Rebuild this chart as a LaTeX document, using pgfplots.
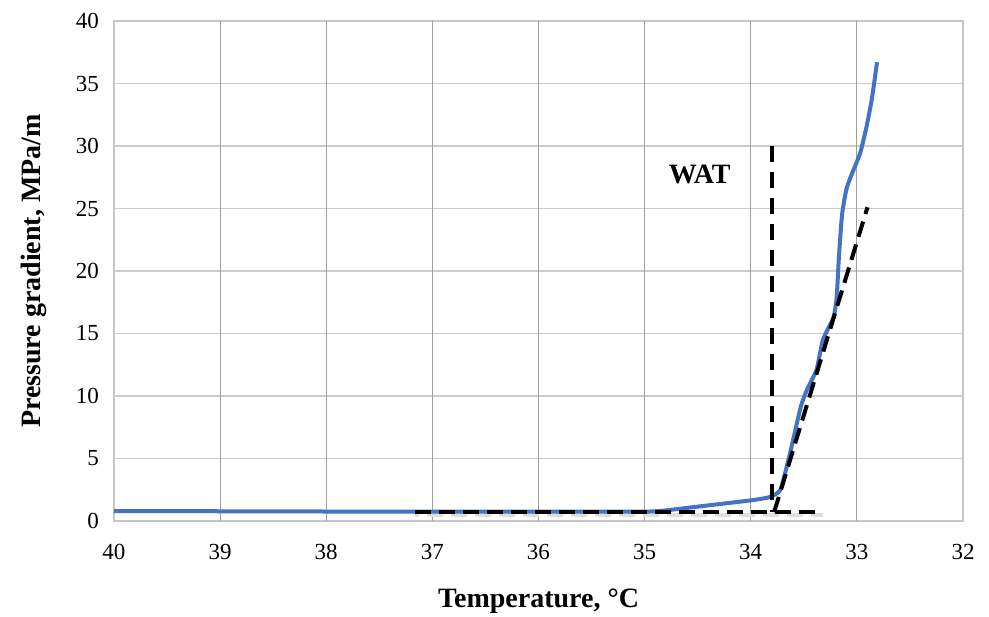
\documentclass[border=0pt]{standalone}
\usepackage{fontspec}
\setmainfont{Liberation Serif}
\usepackage{pgfplots}
\pgfplotsset{compat=1.18}
\definecolor{xblue}{RGB}{68,114,196}
\begin{document}
\begin{tikzpicture}
\begin{axis}[
  scale only axis,
  width=424.5pt, height=250pt,
  xmin=32, xmax=40, ymin=0, ymax=40,
  x dir=reverse,
  xtick={32,33,...,40}, ytick={0,5,...,40},
  major tick length=0pt,
  grid=none,
  axis line style={gray!45, line width=0.6pt},
  tick label style={font=\fontsize{11.5}{13}\selectfont},
  /pgf/number format/assume math mode=true,
  xticklabel style={yshift=-8pt},
  yticklabel style={xshift=-4pt},
  xlabel={\textbf{Temperature, °C}},
  ylabel={\textbf{Pressure gradient, MPa/m}},
  label style={font=\fontsize{14}{16}\selectfont},
  xlabel style={yshift=-8pt},
  ylabel style={yshift=8pt},
  clip=false,
]
% grid lines
\pgfplotsinvokeforeach{5,10,...,35}{\addplot[gray!40, line width=0.6pt, forget plot] coordinates {(32,#1) (40,#1)};}
\pgfplotsinvokeforeach{33,34,...,39}{\addplot[gray!75, line width=0.6pt, forget plot] coordinates {(#1,0) (#1,40)};}
% gray shadow of horizontal dashed line
\addplot[gray!25, line width=2pt, dash pattern=on 8pt off 4pt, dash phase=6pt] coordinates {(37.16,0.5) (33.32,0.5)};
% blue curve
\addplot[xblue, line width=2pt, smooth, tension=0.3] coordinates {
(40,0.8) (39,0.78) (38,0.76) (37,0.75) (36,0.75) (35,0.75) (34.8,0.85) (34.6,1.05) (34.4,1.25) (34.2,1.45) (34.0,1.65) (33.85,1.85) (33.8,2.0) (33.72,2.5) (33.63,5.4) (33.53,9.1) (33.47,10.5) (33.38,12.1) (33.32,14.5) (33.22,16.3) (33.19,17.9) (33.17,21) (33.14,24.5) (33.1,26.5) (33.06,27.5) (32.97,29.4) (32.91,31.5) (32.86,33.7) (32.81,36.7)
};
% dashed lines
\addplot[black, line width=2pt, dash pattern=on 8pt off 4pt] coordinates {(37.16,0.7) (33.32,0.7)};
\addplot[black, line width=2pt, dash pattern=on 8pt off 5pt] coordinates {(33.8,30) (33.8,0.7)};
\addplot[black, line width=2pt, dash pattern=on 8pt off 4pt] coordinates {(33.78,0.7) (32.9,25.1)};
\node[font=\bfseries\fontsize{14}{16}\selectfont] at (axis cs:34.48,27.7) {WAT};
\end{axis}
\pgfresetboundingbox
\path ([shift={(-57pt,-47.5pt)}]current axis.south west) rectangle ([shift={(13pt,10.5pt)}]current axis.north east);
\end{tikzpicture}
\end{document}
